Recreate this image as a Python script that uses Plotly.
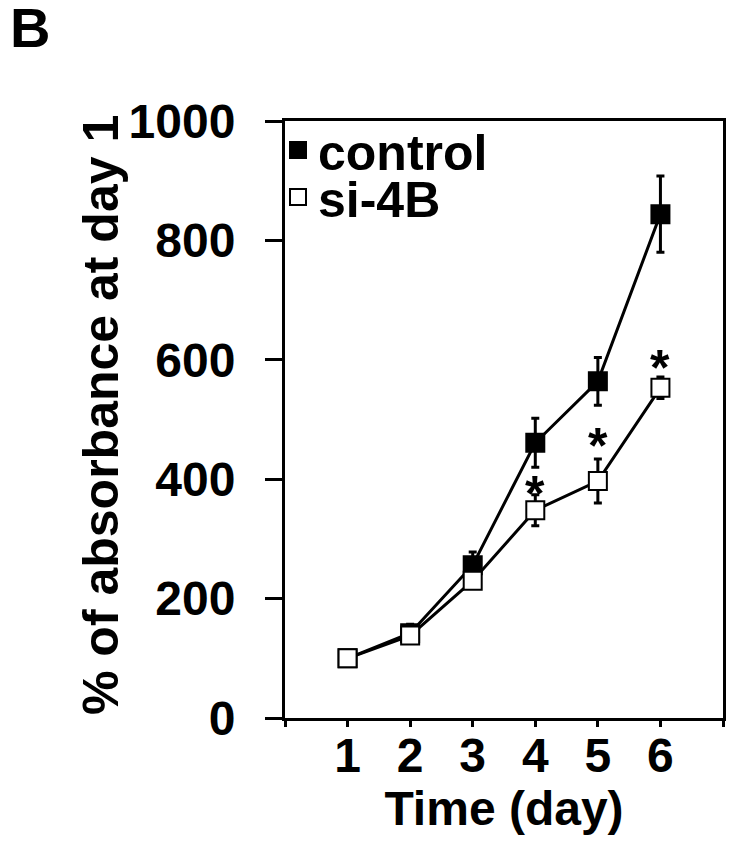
import plotly.graph_objects as go

# ---- data ----
days = [1, 2, 3, 4, 5, 6]
control_mean = [100, 142, 256, 461, 564, 844]
control_err = [0, 15, 22, 41, 40, 64]
si_mean = [100, 138, 230, 348, 397, 553]
si_err = [0, 8, 10, 26, 37, 18]
star_days = [4, 5, 6]
star_y = [389, 469, 600]
x_tickvals = [0, 1, 2, 3, 4, 5, 6, 7]
x_ticktext = ["", "1", "2", "3", "4", "5", "6", ""]
y_tickvals = [0, 200, 400, 600, 800, 1000]

FONT = "Arial, 'Liberation Sans', sans-serif"
BOLD = dict(family=FONT, color="black", weight="bold")

# The page body has an 8px margin, so the figure is sized to fit the window.
W, H = 729, 841
ML, MR, MT, MB = 277, 14, 113, 131
PW, PH = W - ML - MR, H - MT - MB

fig = go.Figure()

fig.add_trace(go.Scatter(
    x=days, y=control_mean, mode="lines+markers", name="control", showlegend=False,
    line=dict(color="black", width=3),
    marker=dict(symbol="square", size=18, color="black", line=dict(color="black", width=2)),
    error_y=dict(type="data", array=control_err, visible=True, color="black", thickness=3, width=4),
))
fig.add_trace(go.Scatter(
    x=days, y=si_mean, mode="lines+markers", name="si-4B", showlegend=False,
    line=dict(color="black", width=3),
    marker=dict(symbol="square", size=18, color="white", line=dict(color="black", width=2)),
    error_y=dict(type="data", array=si_err, visible=True, color="black", thickness=3, width=4),
))

# legend entries (markers only)
fig.add_trace(go.Scatter(
    x=[None], y=[None], mode="markers", name="control", legend="legend",
    marker=dict(symbol="square", size=18, color="black", line=dict(color="black", width=2)),
))
fig.add_trace(go.Scatter(
    x=[None], y=[None], mode="markers", name="si-4B", legend="legend2",
    marker=dict(symbol="square", size=18, color="white", line=dict(color="black", width=2)),
))

for d, yv in zip(star_days, star_y):
    fig.add_annotation(x=d, y=yv, text="*", showarrow=False, xanchor="center", yanchor="middle",
                       yshift=-8, font=dict(size=50, **BOLD))

# panel letter
fig.add_annotation(xref="paper", yref="paper", x=(0 - ML) / PW, y=(MT + PH - 21.5) / PH,
                   text="B", showarrow=False, xanchor="left", yanchor="middle", xshift=0, yshift=2,
                   font=dict(size=56, **BOLD))

# y-axis title
fig.add_annotation(xref="paper", yref="paper", x=(93 - ML) / PW, y=(MT + PH - 407) / PH,
                   text="% of absorbance at day 1", textangle=-90, showarrow=False,
                   xanchor="center", yanchor="middle", font=dict(size=50, **BOLD))

legend_common = dict(xanchor="left", yanchor="top", bgcolor="rgba(0,0,0,0)", borderwidth=0,
                     font=dict(size=50, **BOLD), itemsizing="trace")

fig.update_layout(
    width=W, height=H,
    margin=dict(l=ML, r=MR, t=MT, b=MB),
    plot_bgcolor="white", paper_bgcolor="white",
    legend=dict(x=-7 / PW, y=1.0 + 10 / PH, **legend_common),
    legend2=dict(x=-7 / PW, y=1.0 + 10 / PH - 47 / PH, **legend_common),
    xaxis=dict(
        range=[0, 7], tickmode="array", tickvals=x_tickvals, ticktext=x_ticktext,
        ticks="outside", ticklen=6, tickwidth=3, tickcolor="black",
        showline=True, linewidth=3, linecolor="black", mirror=True,
        showgrid=False, zeroline=False, ticklabelstandoff=-13,
        tickfont=dict(size=48, **BOLD),
        title=dict(text="Time (day)", font=dict(size=48, **BOLD), standoff=10),
    ),
    yaxis=dict(
        range=[0, 1000], tickmode="array", tickvals=y_tickvals,
        ticks="outside", ticklen=17, tickwidth=3, tickcolor="black",
        showline=True, linewidth=3, linecolor="black", mirror=True,
        showgrid=False, zeroline=False, ticklabelstandoff=20,
        tickfont=dict(size=48, **BOLD),
    ),
)

fig.write_html("out.html")
